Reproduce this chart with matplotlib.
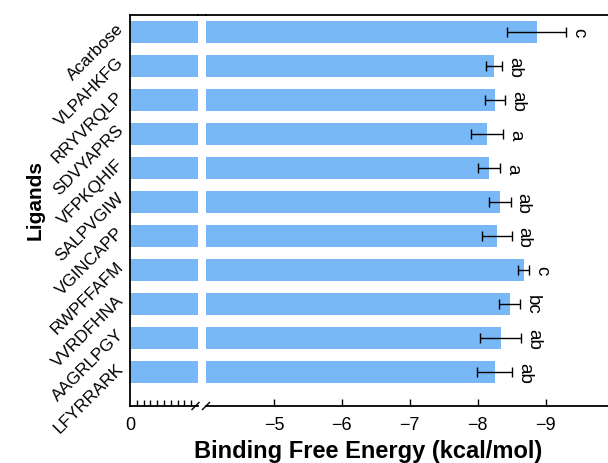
import numpy as np
import matplotlib
matplotlib.use('Agg')
import matplotlib.pyplot as plt
import matplotlib.transforms as mtransforms
from matplotlib.lines import Line2D

plt.rcParams['font.family'] = ['Liberation Sans', 'DejaVu Sans']

# docking results, top to bottom
ligands = ['Acarbose', 'VLPAHKFG', 'RRYVRQLP', 'SDVYAPRS', 'VFPKQHIF', 'SALPVGIW',
           'VGINCAPP', 'RWPFFAFM', 'VVRDFHNA', 'AAGRLPGY', 'LFYRRARK']
energy = [-8.87, -8.24, -8.26, -8.14, -8.17, -8.33, -8.28, -8.68, -8.47, -8.34, -8.25]
sd = [0.43, 0.12, 0.145, 0.23, 0.165, 0.155, 0.22, 0.08, 0.15, 0.30, 0.255]
groups = ['c', 'ab', 'ab', 'a', 'a', 'ab', 'ab', 'c', 'bc', 'ab', 'ab']

bar_color = '#78B8F6'
y = np.arange(len(ligands))

W, H = 608, 464
fig = plt.figure(figsize=(W / 100, H / 100), dpi=100)
# broken x axis: 0..-1 on the left piece, -4..-10 on the right piece
ax1 = fig.add_axes([130 / W, 57 / H, 68 / W, 391 / H])
ax2 = fig.add_axes([206 / W, 57 / H, 407.4 / W, 391 / H])

for ax in (ax1, ax2):
    ax.barh(y, energy, height=0.63, color=bar_color)
    ax.set_ylim(11, -0.5)
    for sp in ax.spines.values():
        sp.set_linewidth(1.3)

ax1.set_xlim(0, -1)
ax2.set_xlim(-4, -10)

ax1.spines['right'].set_visible(False)
ax2.spines['left'].set_visible(False)
ax2.spines['right'].set_visible(False)

ax1.set_xticks([0])
ax1.set_xticks(np.arange(-0.1, -0.95, -0.1), minor=True)
ax1.tick_params(axis='x', which='both', direction='in', labelsize=13, pad=7)
ax1.tick_params(axis='x', which='major', length=0)
ax1.tick_params(axis='x', which='minor', length=4, width=1)
ax1.set_yticks(y)
ax1.set_yticklabels(ligands, rotation=45, ha='right', va='center',
                    rotation_mode='anchor', fontsize=12.3)
ax1.tick_params(axis='y', length=0, pad=0)
# nudge the slanted names up and away from the spine
shift = mtransforms.ScaledTranslation(-9 / 100, 7 / 100, fig.dpi_scale_trans)
for lab in ax1.get_yticklabels():
    lab.set_transform(lab.get_transform() + shift)

ax2.set_xticks([-5, -6, -7, -8, -9])
ax2.tick_params(axis='x', direction='in', length=5, width=1, labelsize=13, pad=7)
ax2.set_yticks([])

ax2.errorbar(energy, y, xerr=sd, fmt='none', ecolor='black', elinewidth=1,
             capsize=3.5, capthick=1)
for yi, e, s, g in zip(y, energy, sd, groups):
    ax2.text(e - s - 0.06, yi, g, rotation=-90, rotation_mode='anchor',
             ha='center', va='bottom', fontsize=13.5)

# top spine runs through the gap, bottom spine gets the break marks
fig.add_artist(Line2D([198 / W, 206 / W], [448 / H, 448 / H], color='black', lw=1.3))
for xc in (195.5, 206):
    fig.add_artist(Line2D([(xc - 3.5) / W, (xc + 3.5) / W], [(57 - 3.5) / H, (57 + 3.5) / H],
                          color='black', lw=1))

fig.text(368 / W, 12 / H, 'Binding Free Energy (kcal/mol)', ha='center', va='center',
         fontsize=17, fontweight='bold')
fig.text(35 / W, 1 - 200 / H, 'Ligands', rotation=90, ha='center', va='center',
         fontsize=15, fontweight='bold')

fig.savefig('out.png', dpi=100)
